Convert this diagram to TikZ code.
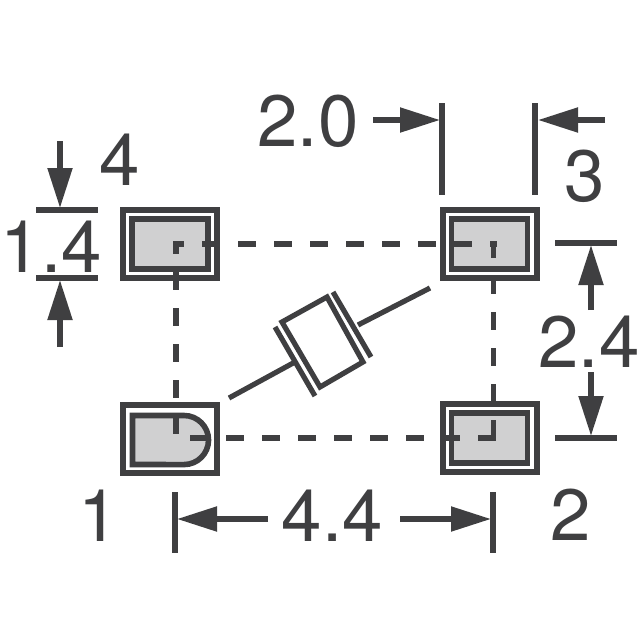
\documentclass[tikz,border=0pt]{standalone}
\usepackage{fontspec}
\setmainfont{TeX Gyre Heros}
\usetikzlibrary{arrows.meta,positioning}
\definecolor{inkgrey}{HTML}{3F3F41}
\definecolor{padgrey}{HTML}{D0D0D1}
\tikzset{
	dimtext/.style={inner sep=0pt,text=inkgrey,font=\fontsize{54.5}{55}\selectfont},
	dimline/.style={color=inkgrey,line width=3.9pt},
	dimarrow/.style={dimline,-{Triangle[length=30pt,width=18pt]}},
	padouter/.style={draw=inkgrey,line width=4.5pt,minimum width=70.5pt,minimum height=51pt,inner sep=0pt},
	padinner/.style={draw=inkgrey,fill=padgrey,line width=4.2pt,minimum width=57pt,minimum height=37.5pt,inner sep=0pt},
	dashline/.style={color=inkgrey,line width=4pt,dash pattern=on 13.5pt off 13.5pt},
	diodeline/.style={draw=inkgrey,line width=3.9pt}
}
\begin{document}
\begin{tikzpicture}[x=0.75pt,y=-0.75pt]
	\useasboundingbox (0,0) rectangle (640,640);
	% pads
	\foreach \name/\cx/\cy in {four/170/244,three/489.5/244,two/489.5/438}{
		\node[padouter] (pad\name) at (\cx,\cy) {};
		\node[padinner] (in\name) at (\cx,\cy) {};
	}
	\node[padouter] (padone) at (170,438.5) {};
	\draw[draw=inkgrey,fill=padgrey,line width=4.2pt] (132.5,415.5) -- (184,415.5) arc[start angle=90,end angle=-90,radius=18.4pt] -- (132.5,464.5) -- cycle;
	% centre lines
	\coordinate (topA) at (173,244);
	\coordinate (topB) at (497,244);
	\coordinate (leftA) at (176,241);
	\coordinate (leftB) at (176,434);
	\coordinate (rightA) at (493.5,241);
	\coordinate (rightB) at (493.5,438);
	\coordinate (lowA) at (190,438);
	\coordinate (lowB) at (497,438);
	\draw[dashline,dash phase=5.25pt] (topA) -- (topB);
	\draw[dashline,dash phase=3.75pt] (leftA) -- (leftB);
	\draw[dashline,dash phase=0.75pt] (rightA) -- (rightB);
	\draw[dashline] (lowA) -- (lowB);
	% diode
	\coordinate (leadA) at (229,398);
	\coordinate (leadB) at (295,362);
	\coordinate (leadC) at (358,325);
	\coordinate (leadD) at (430,288);
	\draw[diodeline] (leadA) -- (leadB) (leadC) -- (leadD);
	\draw[diodeline] (282,322) -- (327,297) -- (363,362) -- (320,387) -- cycle;
	\draw[diodeline] (275,327) -- (315,396) (333,292) -- (371,357);
	% dimension ticks
	\foreach \i/\xa/\ya/\xb/\yb in {1/442/103/442/195,2/535/103/535/195,3/555/243/617/243,4/555/438/617/438,
		5/175/492/175/553,6/493/492/493/553,7/36/210/98/210,8/36/278/98/278}{
		\coordinate (ta\i) at (\xa,\ya);
		\coordinate (tb\i) at (\xb,\yb);
		\draw[dimline] (ta\i) -- (tb\i);
	}
	% arrows
	\foreach \i/\xa/\ya/\xb/\yb in {1/373/120/440/120,2/605/120/538/120,3/591/310/591/245,4/591/372/591/436,
		5/268/519/177/519,6/400/519/491/519,7/60/141/60/208,8/60/347/60/280}{
		\coordinate (aa\i) at (\xa,\ya);
		\coordinate (ab\i) at (\xb,\yb);
		\draw[dimarrow] (aa\i) -- (ab\i);
	}
	% labels
	\node[dimtext] (lab20) at (308,121) {2.0};
	\node[dimtext] (lab4) at (119.5,160) {4};
	\node[dimtext] (lab3) at (585,176) {3};
	\node[dimtext] (lab14) at (51.5,247) {1.4};
	\node[dimtext] (lab24) at (589,342) {2.4};
	\node[dimtext] (lab1) at (99,516) {1};
	\node[dimtext] (lab44) at (332.5,516) {4.4};
	\node[dimtext] (lab2) at (571,515) {2};
\end{tikzpicture}
\end{document}
